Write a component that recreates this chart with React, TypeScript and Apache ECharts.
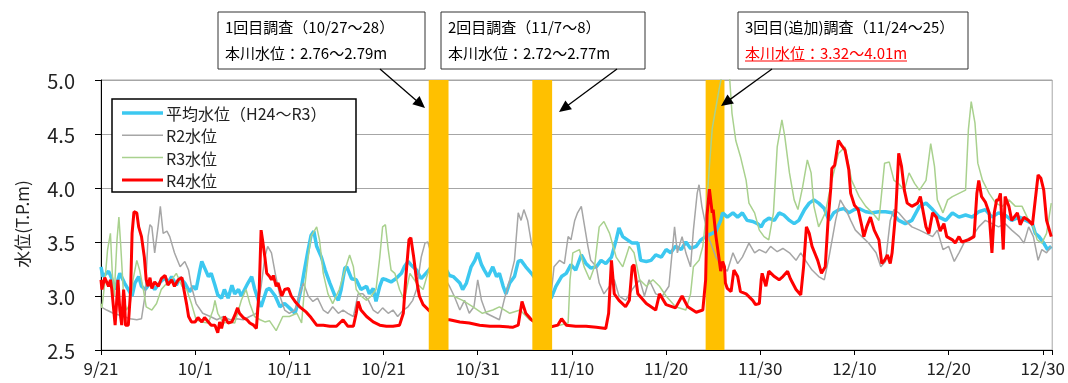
import React, { useEffect, useRef } from "react";
import * as echarts from "echarts";

// x = days since 9/21, y = water level (T.P. m)
const X_TICK_LABELS = ["9/21", "10/1", "10/11", "10/21", "10/31", "11/10", "11/20", "11/30", "12/10", "12/20", "12/30"];
const X_MAX_DAY = 101;
const Y_MIN = 2.5;
const Y_MAX = 5.0;
const Y_STEP = 0.5;

const SERIES_NAMES = ["平均水位（H24～R3）", "R2水位", "R3水位", "R4水位"];
const SERIES_COLORS = ["#3CC8F0", "#A6A6A6", "#A9D18E", "#FF0000"];
const SERIES_WIDTHS = [3.5, 1.5, 1.5, 3];

// survey periods (day ranges)
const SURVEY_BANDS_FRONT = [[34.8, 36.9], [45.8, 47.9]];
const SURVEY_BANDS_BACK = [[64.2, 66.2]];

const AVG_LEVEL = [[0,3.27],[0.2,3.18],[0.8,3.23],[1.1,3.17],[1.5,3.06],[2.0,3.21],[2.5,3.12],[2.9,3.06],[3.3,3.0],[3.6,3.12],[4.0,3.18],[4.3,3.09],[4.7,3.06],[5.2,3.12],[5.7,3.06],[6.3,3.13],[6.8,3.17],[7.1,3.12],[7.5,3.18],[8.0,3.10],[8.4,3.17],[8.9,3.12],[9.4,3.04],[9.8,3.09],[10.1,3.06],[10.5,3.24],[10.7,3.32],[11.0,3.26],[11.4,3.18],[11.7,3.21],[12.1,3.10],[12.4,3.01],[12.8,2.98],[13.1,3.06],[13.5,2.98],[13.9,3.10],[14.2,3.02],[14.6,3.06],[14.9,3.0],[15.3,3.07],[15.6,3.12],[16.0,3.18],[16.3,3.07],[16.7,2.96],[17.0,2.90],[17.6,3.06],[17.9,3.07],[18.5,3.0],[19.0,2.90],[19.5,2.93],[20.0,2.89],[20.6,2.84],[20.9,2.93],[21.3,3.09],[21.6,3.24],[22.0,3.43],[22.3,3.56],[22.6,3.60],[22.9,3.46],[23.4,3.36],[23.8,3.24],[24.3,3.12],[24.8,3.01],[25.2,2.96],[25.5,3.06],[25.9,3.26],[26.1,3.27],[26.6,3.16],[27.1,3.15],[27.6,3.06],[28.2,3.09],[28.5,3.02],[28.9,3.07],[29.2,2.95],[29.6,3.09],[29.9,3.16],[30.3,3.15],[30.8,3.13],[31.3,3.16],[31.9,3.21],[32.2,3.27],[32.6,3.32],[32.9,3.29],[33.5,3.24],[34.0,3.16],[34.5,3.21],[35.1,3.27],[35.6,3.36],[35.9,3.33],[36.5,3.27],[37.0,3.19],[37.4,3.18],[38.1,3.12],[38.4,3.06],[38.8,3.12],[39.3,3.27],[39.7,3.33],[40.0,3.40],[40.4,3.29],[40.7,3.24],[41.1,3.18],[41.6,3.27],[42.0,3.18],[42.3,3.21],[42.7,3.09],[43.0,3.02],[43.4,3.12],[43.9,3.18],[44.3,3.32],[44.6,3.33],[45.1,3.27],[45.7,3.21],[46.2,3.15],[46.7,3.09],[47.3,3.02],[47.8,2.98],[48.3,3.09],[48.9,3.18],[49.4,3.21],[49.9,3.29],[50.4,3.24],[51.0,3.38],[51.5,3.30],[52.0,3.26],[52.6,3.27],[53.1,3.33],[53.6,3.30],[54.2,3.36],[54.7,3.52],[55.0,3.63],[55.4,3.55],[55.9,3.52],[56.4,3.49],[57.0,3.49],[57.3,3.33],[57.9,3.32],[58.4,3.33],[58.9,3.38],[59.5,3.36],[60.0,3.43],[60.5,3.40],[61.0,3.46],[61.6,3.43],[62.1,3.50],[62.6,3.44],[63.2,3.46],[63.7,3.52],[64.2,3.55],[64.9,3.58],[65.3,3.60],[65.8,3.70],[66.0,3.77],[66.5,3.73],[67.1,3.77],[67.6,3.73],[68.1,3.77],[68.6,3.70],[69.2,3.69],[69.7,3.67],[70.1,3.64],[70.4,3.69],[70.9,3.72],[71.5,3.70],[72.0,3.77],[72.5,3.75],[73.1,3.70],[73.6,3.67],[74.1,3.70],[74.7,3.80],[75.2,3.86],[75.7,3.89],[76.2,3.86],[76.8,3.81],[77.3,3.70],[77.8,3.77],[78.4,3.80],[78.9,3.81],[79.4,3.77],[80.0,3.80],[80.5,3.81],[81.2,3.78],[81.9,3.77],[82.6,3.78],[83.3,3.78],[84.0,3.77],[84.7,3.70],[85.4,3.67],[86.1,3.70],[86.9,3.83],[87.6,3.86],[88.3,3.80],[89.0,3.73],[89.7,3.70],[90.4,3.77],[91.1,3.73],[91.8,3.75],[92.5,3.73],[93.2,3.78],[93.9,3.80],[94.6,3.73],[95.3,3.77],[96.0,3.75],[96.7,3.70],[97.5,3.73],[98.2,3.70],[98.9,3.67],[99.2,3.58],[99.6,3.55],[100.1,3.49],[100.5,3.43],[100.9,3.46]];

const R2_LEVEL = [[0,2.90],[0.6,2.87],[1.3,2.84],[2.4,2.81],[3.1,2.79],[3.8,2.78],[4.3,2.79],[4.7,3.02],[5.0,3.55],[5.2,3.66],[5.4,3.64],[5.7,3.40],[6.1,3.67],[6.3,3.83],[6.6,3.58],[7.0,3.60],[7.3,3.55],[7.8,3.40],[8.4,3.27],[8.9,3.32],[9.3,3.24],[9.6,3.09],[10.1,2.93],[10.8,2.84],[11.6,2.81],[12.3,2.78],[13.0,2.81],[13.7,2.78],[14.4,2.79],[15.1,2.78],[15.8,2.81],[16.5,2.84],[17.0,3.09],[17.4,3.36],[17.7,3.46],[18.1,3.40],[18.5,3.21],[19.0,3.0],[19.5,2.87],[20.0,2.84],[20.6,2.87],[21.1,3.02],[21.5,3.12],[22.0,3.0],[22.5,2.95],[23.0,2.98],[23.6,2.87],[24.1,2.84],[24.6,2.90],[25.2,2.84],[25.7,2.87],[26.2,2.84],[26.8,2.81],[27.3,3.02],[27.8,3.02],[28.4,2.96],[28.9,2.87],[29.4,2.84],[29.9,2.89],[30.5,2.84],[31.0,2.87],[31.5,2.81],[32.1,2.87],[32.6,2.90],[33.1,2.96],[33.5,3.06],[34.0,3.36],[34.4,3.49],[34.7,3.50],[35.1,3.38],[35.6,3.44],[35.9,3.40],[36.3,3.20],[37.0,3.09],[37.5,3.0],[38.1,2.87],[38.6,2.96],[39.1,2.84],[39.6,2.90],[40.0,3.15],[40.4,2.96],[40.9,2.84],[41.6,2.81],[42.3,2.78],[42.8,2.96],[43.4,3.15],[43.9,3.33],[44.3,3.77],[44.6,3.70],[44.9,3.80],[45.3,3.70],[45.7,3.49],[46.1,3.40],[46.5,3.27],[47.3,3.18],[47.8,3.02],[48.1,3.27],[48.7,3.33],[49.2,3.30],[49.6,3.55],[49.9,3.52],[50.3,3.70],[50.6,3.77],[51.0,3.83],[51.3,3.67],[51.7,3.46],[52.0,3.33],[52.6,3.27],[52.9,3.12],[53.4,3.02],[54.0,3.09],[54.5,3.15],[55.0,3.0],[55.7,2.96],[56.4,3.06],[57.2,3.15],[57.7,3.0],[58.2,3.15],[58.9,3.02],[59.6,3.0],[60.3,3.09],[60.9,3.64],[61.2,3.40],[61.7,3.55],[62.1,3.40],[62.6,3.27],[62.9,3.61],[63.3,3.95],[63.5,4.03],[63.8,3.83],[64.1,3.70],[64.6,3.52],[65.3,3.36],[66.0,3.27],[66.5,3.23],[67.1,3.40],[67.6,3.30],[68.1,3.36],[68.8,3.49],[69.4,3.40],[69.9,3.43],[70.6,3.40],[71.1,3.46],[71.8,3.41],[72.4,3.44],[73.1,3.40],[73.8,3.33],[74.3,3.40],[74.8,3.33],[75.5,3.24],[76.2,3.18],[76.8,3.15],[77.3,3.36],[78.0,3.70],[78.5,3.89],[79.1,3.80],[79.6,3.70],[80.1,3.61],[80.8,3.55],[81.5,3.49],[82.3,3.40],[82.8,3.27],[83.3,3.32],[83.8,3.70],[84.2,3.80],[84.7,3.77],[85.4,3.70],[86.1,3.64],[86.9,3.61],[87.6,3.58],[88.3,3.55],[88.8,3.61],[89.4,3.43],[90.0,3.46],[90.6,3.32],[91.1,3.40],[91.8,3.52],[92.5,3.55],[93.2,3.64],[93.9,3.70],[94.6,3.67],[95.3,3.64],[96.0,3.67],[96.7,3.61],[97.5,3.55],[98.0,3.49],[98.5,3.64],[99.0,3.55],[99.5,3.33],[99.9,3.43],[100.4,3.40],[100.9,3.46]];

const R3_LEVEL = [[0,2.93],[0.1,2.89],[0.4,3.12],[0.7,3.43],[1.0,3.58],[1.2,3.21],[1.4,3.0],[1.7,3.52],[1.9,3.73],[2.1,3.46],[2.4,3.0],[2.7,2.87],[3.1,2.93],[3.4,3.15],[3.8,3.33],[4.1,3.24],[4.5,3.06],[4.8,2.90],[5.4,2.87],[5.9,2.93],[6.4,3.06],[7.0,3.12],[7.5,3.15],[8.0,3.21],[8.6,3.09],[9.1,3.06],[9.6,2.93],[10.1,2.78],[10.7,2.76],[11.4,2.75],[11.9,2.87],[12.1,2.96],[12.4,2.84],[13.0,2.75],[13.5,2.76],[14.2,2.75],[14.9,2.96],[15.4,3.06],[15.8,2.93],[16.3,2.81],[16.9,2.78],[17.4,2.76],[17.9,2.77],[18.6,2.68],[19.3,2.81],[20.0,2.81],[20.8,2.84],[21.3,2.75],[21.6,3.06],[22.0,3.36],[22.3,3.55],[22.9,3.64],[23.2,3.52],[23.6,3.21],[24.1,3.02],[24.6,2.93],[25.3,3.06],[25.9,3.24],[26.4,3.38],[26.8,3.27],[27.1,3.06],[27.6,3.0],[28.2,2.96],[28.7,3.0],[29.2,3.06],[29.6,3.36],[29.9,3.64],[30.2,3.66],[30.5,3.43],[30.8,3.24],[31.2,3.21],[31.7,3.06],[32.2,2.96],[32.8,3.21],[33.5,3.12],[34.2,3.06],[34.9,3.27],[35.6,3.30],[36.3,3.0],[37.4,3.0],[38.4,2.96],[39.5,2.90],[40.5,2.84],[41.6,2.87],[42.3,2.90],[43.4,2.84],[44.5,2.87],[45.5,2.78],[46.5,2.75],[47.6,2.72],[48.7,2.73],[49.6,2.75],[49.8,3.15],[50.1,3.40],[50.8,3.43],[51.3,3.27],[51.9,3.15],[52.4,3.27],[52.9,3.64],[53.4,3.69],[54.0,3.58],[54.7,3.36],[55.4,3.27],[56.1,3.46],[56.6,3.40],[57.2,3.15],[57.9,3.09],[58.6,3.15],[59.3,3.09],[60.0,3.0],[61.0,2.90],[62.1,2.87],[62.6,3.02],[62.9,3.27],[63.5,3.33],[63.9,3.46],[64.2,3.70],[64.6,4.20],[64.9,4.55],[65.3,4.75],[65.6,4.90],[66.0,5.08],[66.7,5.08],[67.0,4.69],[67.4,4.44],[67.9,4.29],[68.5,4.07],[68.8,3.86],[69.4,3.77],[69.9,3.61],[70.4,3.55],[70.9,3.52],[71.4,3.77],[71.8,4.38],[72.3,4.63],[72.6,4.48],[73.1,4.14],[73.6,3.89],[74.0,3.80],[74.5,4.01],[75.0,4.26],[75.4,4.14],[75.7,3.83],[76.2,3.64],[76.9,3.77],[77.6,4.07],[78.3,4.32],[79.0,4.38],[79.7,4.07],[80.5,3.92],[81.2,3.83],[81.9,3.77],[82.6,3.70],[83.2,4.23],[83.7,4.24],[84.2,4.07],[84.7,4.04],[85.3,3.98],[85.8,4.14],[86.4,4.04],[86.9,3.98],[87.6,4.07],[88.1,4.41],[88.5,4.20],[88.8,3.89],[89.4,3.77],[89.9,3.89],[90.4,3.92],[91.1,3.95],[91.8,3.98],[92.1,4.54],[92.4,4.80],[92.8,4.60],[93.1,4.23],[93.6,4.07],[94.3,3.95],[95.0,3.86],[95.7,3.83],[96.4,3.89],[97.1,3.83],[97.8,3.83],[98.5,3.70],[99.0,3.64],[99.4,3.52],[99.9,3.49],[100.4,3.58],[100.9,3.86]];

const R4_LEVEL = [[0,3.15],[0.1,3.06],[0.4,3.17],[0.8,3.09],[1.0,3.15],[1.15,3.06],[1.5,2.73],[1.65,2.93],[1.8,3.15],[2.0,2.87],[2.2,2.73],[2.4,3.06],[2.5,2.96],[2.6,2.73],[2.9,2.73],[3.15,3.06],[3.3,3.58],[3.5,3.78],[3.8,3.77],[4.0,3.64],[4.3,3.55],[4.6,3.36],[4.8,3.15],[5.0,3.09],[5.2,3.17],[5.4,3.07],[5.7,3.13],[6.1,3.09],[6.4,3.16],[6.8,3.19],[6.95,3.15],[7.1,3.10],[7.5,3.15],[7.8,3.09],[8.2,3.15],[8.6,3.17],[8.8,3.06],[9.1,2.92],[9.3,2.81],[9.6,2.76],[10.0,2.76],[10.3,2.80],[10.7,2.76],[11.0,2.80],[11.4,2.76],[11.7,2.73],[12.1,2.73],[12.4,2.66],[12.6,2.76],[12.8,2.70],[13.1,2.81],[13.5,2.75],[13.9,2.76],[14.2,2.82],[14.5,2.89],[14.7,2.84],[15.1,2.80],[15.5,2.78],[15.8,2.75],[16.2,2.73],[16.5,2.70],[16.8,3.06],[17.0,3.61],[17.2,3.49],[17.4,3.36],[17.6,3.21],[17.9,3.18],[18.1,3.15],[18.3,3.19],[18.6,3.09],[18.8,3.12],[19.2,3.0],[19.5,3.06],[19.9,3.07],[20.2,3.0],[20.6,2.95],[21.1,2.90],[21.8,2.85],[22.3,2.80],[22.9,2.73],[23.6,2.73],[24.3,2.72],[25.0,2.72],[25.7,2.78],[26.2,2.72],[26.8,2.72],[27.1,2.84],[27.3,2.95],[27.6,2.87],[28.2,2.81],[28.9,2.76],[29.6,2.73],[30.3,2.72],[31.0,2.72],[31.7,2.73],[32.1,2.84],[32.4,3.21],[32.7,3.52],[32.9,3.54],[33.2,3.36],[33.5,3.15],[33.8,3.0],[34.2,2.92],[34.9,2.86],[35.6,2.81],[36.6,2.78],[37.0,2.78],[38.1,2.76],[39.1,2.75],[40.2,2.73],[41.3,2.72],[42.3,2.72],[43.7,2.71],[44.3,2.73],[44.7,2.95],[45.1,2.84],[45.7,2.78],[46.5,2.73],[47.6,2.71],[48.5,2.73],[48.9,2.79],[49.4,2.73],[50.4,2.72],[51.5,2.72],[52.6,2.71],[53.6,2.70],[53.9,2.84],[54.2,3.33],[54.5,3.02],[55.0,2.96],[55.7,2.90],[56.1,2.96],[56.4,3.27],[56.6,3.29],[57.0,3.02],[57.9,2.93],[58.9,2.87],[59.3,3.02],[60.0,2.92],[61.0,2.89],[61.7,3.0],[62.3,2.90],[63.2,2.85],[63.9,2.87],[64.2,3.15],[64.35,3.75],[64.6,3.99],[64.9,3.77],[65.0,3.80],[65.3,3.55],[65.6,3.36],[65.8,3.23],[66.0,3.32],[66.2,3.27],[66.3,3.12],[66.5,3.07],[66.9,3.04],[67.2,3.24],[67.6,3.18],[67.9,3.04],[68.5,3.02],[69.2,2.96],[69.5,2.92],[69.9,2.93],[70.1,3.15],[70.2,3.21],[70.6,3.09],[70.9,3.23],[71.5,3.18],[72.0,3.15],[72.4,3.18],[72.9,3.23],[73.2,3.16],[73.8,3.06],[74.3,3.01],[74.6,3.27],[74.9,3.64],[75.2,3.58],[75.5,3.46],[76.1,3.33],[76.5,3.21],[76.9,3.27],[77.2,3.70],[77.5,4.01],[77.6,4.18],[77.9,4.21],[78.3,4.44],[78.6,4.40],[79.0,4.35],[79.4,4.17],[79.6,3.95],[80.0,3.84],[80.4,3.80],[80.8,3.64],[81.0,3.55],[81.3,3.64],[81.7,3.73],[82.1,3.61],[82.6,3.52],[82.9,3.30],[83.2,3.33],[83.5,3.38],[83.8,3.30],[84.0,3.40],[84.4,3.80],[84.7,4.32],[85.0,4.20],[85.3,3.98],[85.6,3.86],[86.1,3.83],[86.7,3.86],[87.0,3.92],[87.6,3.64],[87.9,3.58],[88.3,3.77],[88.7,3.73],[89.1,3.60],[89.5,3.67],[89.8,3.55],[90.4,3.52],[90.7,3.49],[91.1,3.55],[91.4,3.50],[92.1,3.52],[92.7,3.55],[93.0,3.95],[93.2,4.07],[93.5,3.92],[93.9,3.87],[94.3,3.77],[94.6,3.40],[94.85,3.77],[95.1,3.89],[95.3,3.89],[95.5,3.95],[95.8,3.43],[96.0,3.92],[96.4,3.83],[96.7,3.70],[97.3,3.77],[97.6,3.66],[98.0,3.73],[98.5,3.70],[98.9,3.66],[99.2,3.89],[99.5,4.12],[99.8,4.09],[100.1,3.98],[100.4,3.70],[100.9,3.55]];

const SERIES_DATA = [AVG_LEVEL, R2_LEVEL, R3_LEVEL, R4_LEVEL];

const FONT = '"Noto Sans CJK JP", "Noto Sans", sans-serif';

function arrow(sx: number, sy: number, tx: number, ty: number) {
  const dx = tx - sx, dy = ty - sy;
  const len = Math.sqrt(dx * dx + dy * dy);
  const ux = dx / len, uy = dy / len;
  const nx = -uy, ny = ux;
  const L = 12, W = 5.5;
  const bx = tx - ux * L, by = ty - uy * L;
  return [
    { type: "line", z: 100, shape: { x1: sx, y1: sy, x2: bx + ux * 2, y2: by + uy * 2 }, style: { stroke: "#000", lineWidth: 1.3 } },
    { type: "polygon", z: 100, shape: { points: [[tx, ty], [bx + nx * W, by + ny * W], [bx - nx * W, by - ny * W]] }, style: { fill: "#000" } },
  ];
}

function box(x: number, y: number, w: number, h: number, line1: string, line2: string, red: boolean) {
  const els: any[] = [
    { type: "rect", z: 100, shape: { x, y, width: w, height: h }, style: { fill: "#fff", stroke: "#333", lineWidth: 1 } },
    { type: "text", z: 101, x: x + 7, y: y + 14, style: { text: line1, fontSize: 15, fontFamily: FONT, fill: "#000", verticalAlign: "middle", align: "left" } },
    { type: "text", z: 101, x: x + 7, y: y + 40, style: { text: line2, fontSize: 15, fontFamily: FONT, fill: red ? "#FF0000" : "#000", verticalAlign: "middle", align: "left" } },
  ];
  if (red) {
    els.push({ type: "line", z: 101, shape: { x1: x + 7, y1: y + 49, x2: x + 169, y2: y + 49 }, style: { stroke: "#FF0000", lineWidth: 1 } });
  }
  return els;
}

function legendBox() {
  const left = 112, top = 99, w = 244, h = 93;
  const els: any[] = [
    { type: "rect", z: 100, shape: { x: left, y: top, width: w, height: h }, style: { fill: "#fff", stroke: "#000", lineWidth: 1.5 } },
  ];
  SERIES_NAMES.forEach((name, i) => {
    const cy = top + 14 + i * 22.3;
    els.push({ type: "line", z: 101, shape: { x1: left + 10, y1: cy, x2: left + 51, y2: cy }, style: { stroke: SERIES_COLORS[i], lineWidth: SERIES_WIDTHS[i] } });
    els.push({ type: "text", z: 101, x: left + 54, y: cy, style: { text: name, fontSize: 16, fontFamily: FONT, fill: "#222", verticalAlign: "middle", align: "left" } });
  });
  return els;
}

function bandSeries(name: string, data: number[][], z: number) {
  return {
    type: "custom",
    name,
    z,
    clip: true,
    encode: { x: [0, 1] },
    data,
    renderItem: (params: any, api: any) => {
      const p0 = api.coord([api.value(0), Y_MAX]);
      const p1 = api.coord([api.value(1), Y_MIN]);
      return {
        type: "rect",
        shape: { x: p0[0], y: p0[1], width: p1[0] - p0[0], height: p1[1] - p0[1] },
        style: { fill: "#FFC000" },
      };
    },
  };
}

export default function App() {
  const ref = useRef<HTMLDivElement>(null);
  useEffect(() => {
    if (!ref.current) return;
    const chart = echarts.init(ref.current, null, { renderer: "svg" });
    const lineSeries = (i: number) => ({
      type: "line",
      name: SERIES_NAMES[i],
      data: SERIES_DATA[i],
      symbol: "none",
      showSymbol: false,
      z: 2 + i,
      lineStyle: { color: SERIES_COLORS[i], width: SERIES_WIDTHS[i] },
      itemStyle: { color: SERIES_COLORS[i] },
    });
    chart.setOption({
      animation: false,
      grid: { left: 101, right: 13, top: 80, bottom: 33, show: true, borderColor: "#A6A6A6", borderWidth: 1 },
      xAxis: {
        type: "value",
        min: 0,
        max: X_MAX_DAY,
        interval: 10,
        axisLine: { show: true, lineStyle: { color: "#000", width: 1 } },
        axisTick: { show: true, length: 5, lineStyle: { color: "#000" } },
        splitLine: { show: false },
        axisLabel: {
          fontSize: 17,
          fontFamily: FONT,
          color: "#222",
          margin: 9,
          formatter: (v: number) => (v % 10 === 0 ? X_TICK_LABELS[v / 10] ?? "" : ""),
        },
      },
      yAxis: {
        type: "value",
        min: Y_MIN,
        max: Y_MAX,
        interval: Y_STEP,
        axisLine: { show: true, lineStyle: { color: "#000", width: 1 } },
        axisTick: { show: true, length: 6, lineStyle: { color: "#000" } },
        splitLine: { show: true, lineStyle: { color: "#A6A6A6", width: 1.2 } },
        axisLabel: { fontSize: 20, fontFamily: FONT, color: "#222", margin: 26, formatter: (v: number) => v.toFixed(1) },
      },
      series: [
        bandSeries("band-back", SURVEY_BANDS_BACK, 1),
        lineSeries(0),
        lineSeries(1),
        lineSeries(2),
        lineSeries(3),
        bandSeries("band-front", SURVEY_BANDS_FRONT, 6),
      ],
      graphic: [
        { type: "text", z: 100, x: 21, y: 224, rotation: Math.PI / 2, style: { text: "水位(T.P.m)", fontSize: 17, fontFamily: FONT, fill: "#222", align: "center", verticalAlign: "middle" } },
        ...legendBox(),
        ...box(218, 12, 207, 57, "1回目調査（10/27～28）", "本川水位：2.76～2.79m", false),
        ...box(441, 12, 204, 57, "2回目調査（11/7～8）", "本川水位：2.72～2.77m", false),
        ...box(738, 12, 230, 57, "3回目(追加)調査（11/24～25）", "本川水位：3.32～4.01m", true),
        ...arrow(380, 69, 425, 108),
        ...arrow(617, 69, 559, 112),
        ...arrow(772, 69, 721, 106),
      ],
    });
    return () => chart.dispose();
  }, []);
  return <div ref={ref} style={{ position: "fixed", left: 0, top: 0, width: 1068, height: 383 }} />;
}
